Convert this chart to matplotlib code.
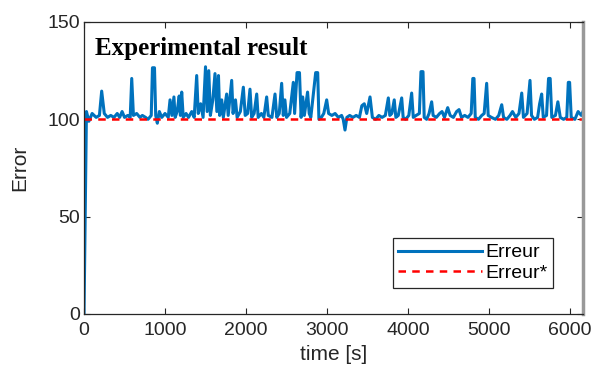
import matplotlib
matplotlib.use("Agg")
import matplotlib.pyplot as plt

# measured error signal (time in s, value)
time_s = [0, 30, 60, 100, 150, 190, 218, 250, 290, 330, 370, 410, 440, 470, 500, 540, 570, 589, 610,
          650, 690, 720, 760, 790, 830, 845, 870, 885, 905, 930, 960, 1000, 1040, 1062, 1085, 1110,
          1125, 1150, 1175, 1190, 1206, 1225, 1260, 1290, 1330, 1360, 1391, 1410, 1440, 1470, 1500,
          1520, 1540, 1560, 1590, 1617, 1640, 1660, 1675, 1700, 1720, 1761, 1780, 1823, 1840, 1870,
          1890, 1930, 1967, 1990, 2020, 2049, 2070, 2100, 2132, 2150, 2190, 2220, 2255, 2275, 2320,
          2358, 2380, 2410, 2440, 2460, 2480, 2500, 2540, 2584, 2600, 2630, 2660, 2680, 2700, 2720,
          2760, 2780, 2800, 2860, 2885, 2900, 2930, 2960, 2996, 3020, 3060, 3100, 3140, 3180, 3200,
          3222, 3245, 3280, 3320, 3360, 3400, 3430, 3460, 3490, 3531, 3560, 3600, 3640, 3680, 3720,
          3757, 3775, 3800, 3830, 3850, 3880, 3922, 3940, 3970, 4010, 4045, 4065, 4100, 4140, 4160,
          4185, 4200, 4230, 4260, 4292, 4310, 4350, 4390, 4420, 4450, 4490, 4520, 4560, 4600, 4630,
          4660, 4700, 4740, 4780, 4800, 4815, 4830, 4870, 4910, 4940, 4971, 4990, 5030, 5080, 5120,
          5157, 5180, 5220, 5260, 5290, 5330, 5370, 5404, 5425, 5470, 5506, 5525, 5560, 5600, 5625,
          5650, 5670, 5710, 5735, 5755, 5775, 5820, 5850, 5880, 5920, 5960, 5979, 5995, 6015, 6060,
          6100, 6140, 6160]
erreur = [0, 104, 99, 103, 101, 102, 114.5, 103, 101, 102, 101, 103, 101, 104, 101, 102, 101, 121, 102,
          103, 101, 102, 101, 100, 102, 126.5, 126.5, 102, 98, 104, 101, 103, 101, 110, 102, 111.5,
          101, 104, 112, 102, 114, 101, 103, 101, 104, 101, 122.5, 103, 108, 101, 127,
          104, 125, 102, 110, 123.5, 104, 122.5, 102, 110, 101, 113, 102, 120, 103, 110,
          101, 104, 116.5, 102, 103, 115.5, 101, 103, 113, 101, 103, 101, 111.5, 102, 101,
          113, 101, 103, 118.5, 102, 110, 101, 103, 119, 103, 124, 124, 101, 111.5, 102,
          114, 103, 101, 124, 124, 100, 101, 103, 110, 103, 102, 103, 101, 102, 100,
          94.5, 101, 102, 101, 102, 101, 107, 108, 103, 111.5, 101, 100, 102, 101, 102,
          111, 102, 103, 110, 101, 102, 111, 101, 100, 102, 113.5, 101, 102, 103, 124.5,
          124.5, 101, 100, 103, 109, 102, 101, 103, 104, 101, 106, 102, 101, 104, 105,
          101, 102, 101, 103, 121, 121, 101, 100, 102, 103, 118.5, 102, 101, 100, 102,
          107.5, 101, 100, 102, 104, 101, 103, 113.5, 101, 103, 120, 102, 100, 101, 108,
          113, 101, 102, 121, 121, 101, 102, 109, 101, 100, 101, 119, 119, 101, 100,
          104, 102, 104]
ref_time = [0, 6160]
erreur_ref = [100, 100]

x_ticks = [0, 1000, 2000, 3000, 4000, 5000, 6000]
y_ticks = [0, 50, 100, 150]

plt.rcParams['font.family'] = ['Liberation Sans', 'DejaVu Sans']

fig = plt.figure(figsize=(6.01, 3.76), dpi=100)
ax = fig.add_axes([0.1398, 0.1649, 0.8302, 0.7766])

ax.plot(time_s, erreur, color="#0072BD", linewidth=2.2, label="Erreur")
ax.plot(ref_time, erreur_ref, color="red", linestyle="--", linewidth=1.8,
        dashes=(3, 2.5), label="Erreur*")

ax.set_xlim(0, 6160)
ax.set_ylim(0, 150)
ax.set_xticks(x_ticks)
ax.set_yticks(y_ticks)
ax.tick_params(direction="in", length=4, top=True, right=True, labelsize=14,
               colors="#262626", width=0.8, pad=3)
ax.tick_params(axis="x", pad=6)
for side in ["left", "bottom", "top"]:
    ax.spines[side].set_color("#262626")
    ax.spines[side].set_linewidth(0.9)
ax.spines["right"].set_color("#999999")
ax.spines["right"].set_linewidth(2.5)

ax.set_xlabel("time [s]", fontsize=15, color="#262626", labelpad=4)
ax.set_ylabel("Error", fontsize=15, color="#262626", labelpad=13)

ax.text(0.022, 0.95, "Experimental result", transform=ax.transAxes,
        fontsize=18, fontweight="bold", family="Liberation Serif",
        va="top", ha="left", color="black")

leg = ax.legend(loc="lower right", bbox_to_anchor=(0.94, 0.09), fontsize=14,
                handlelength=4.3, handletextpad=0.15, borderpad=0.3,
                labelspacing=0.15, fancybox=False, framealpha=1,
                edgecolor="#262626", borderaxespad=0)
leg.get_frame().set_linewidth(0.9)

fig.savefig("out.png", dpi=100)
